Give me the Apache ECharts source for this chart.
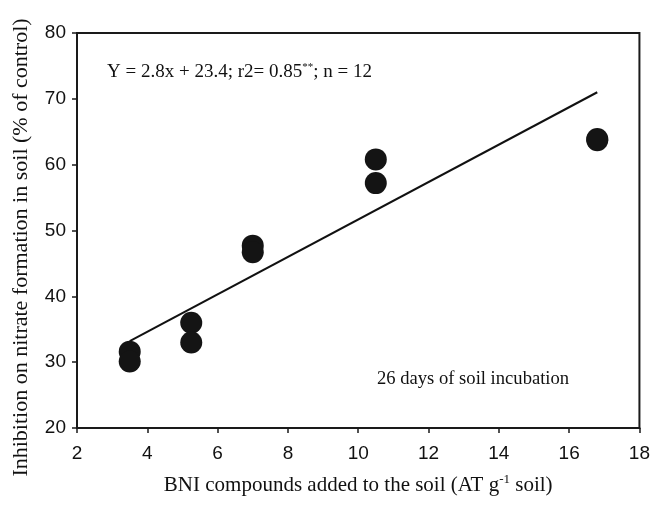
<!DOCTYPE html>
<html>
<head>
<meta charset="utf-8">
<script src="https://cdn.jsdelivr.net/npm/echarts@6/dist/echarts.min.js"></script>
<style>
  html, body { margin: 0; padding: 0; background: #fff; }
  #chart { width: 653px; height: 505px; }
</style>
</head>
<body>
<div id="chart"></div>
<script>
// Data
var bniDose = [3.5, 3.5, 5.25, 5.25, 7, 7, 10.5, 10.5, 16.8, 16.8];
var inhibition = [31.6, 30.1, 36.0, 33.0, 47.7, 46.7, 60.8, 57.2, 63.9, 63.7];
// fitted line ends (Y = 2.8x + 23.4)
var fitX = [3.5, 16.8];
var fitY = [33.2, 71.0];
var xTicks = [2, 4, 6, 8, 10, 12, 14, 16, 18];
var yTicks = [20, 30, 40, 50, 60, 70, 80];

var serif = '"Liberation Serif", "Times New Roman", serif';
var sans = '"Liberation Sans", Arial, sans-serif';

var chart = echarts.init(document.getElementById('chart'));

var points = bniDose.map(function (x, i) { return [x, inhibition[i]]; });
var fitLine = fitX.map(function (x, i) { return [x, fitY[i]]; });

var option = {
    backgroundColor: '#fff',
    animation: false,
    grid: {
        left: 77,
        right: 13,
        top: 33,
        bottom: 77,
        show: true,
        borderColor: '#1a1a1a',
        borderWidth: 2
    },
    xAxis: {
        type: 'value',
        min: xTicks[0],
        max: xTicks[xTicks.length - 1],
        interval: 2,
        name: 'BNI compounds added to the soil (AT g{sup|-1} soil)',
        nameLocation: 'middle',
        nameGap: 45,
        nameTextStyle: {
            fontFamily: serif,
            fontSize: 21,
            color: '#111',
            rich: {
                sup: { fontFamily: serif, fontSize: 13, color: '#111', padding: [0, 0, 11, 0] }
            }
        },
        axisLine: { lineStyle: { color: '#1a1a1a', width: 2 } },
        axisTick: { show: true, inside: false, length: 5, lineStyle: { color: '#1a1a1a', width: 1.5 } },
        axisLabel: { fontFamily: sans, fontSize: 19, color: '#111', margin: 16 },
        splitLine: { show: false }
    },
    yAxis: {
        type: 'value',
        min: yTicks[0],
        max: yTicks[yTicks.length - 1],
        interval: 10,
        name: 'Inhibition on nitrate formation in soil (% of control)',
        nameLocation: 'middle',
        nameGap: 45,
        nameTextStyle: { fontFamily: serif, fontSize: 22, color: '#111', padding: [0, 34, 0, 0] },
        axisLine: { lineStyle: { color: '#1a1a1a', width: 2 } },
        axisTick: { show: true, inside: false, length: 5, lineStyle: { color: '#1a1a1a', width: 1.5 } },
        axisLabel: { fontFamily: sans, fontSize: 19, color: '#111', margin: 11 },
        splitLine: { show: false }
    },
    graphic: [
        {
            type: 'text',
            left: 107,
            top: 62,
            style: {
                text: 'Y = 2.8x + 23.4; r2= 0.85{sup|**}; n = 12',
                font: '19px ' + serif,
                fill: '#111',
                rich: {
                    sup: { fontFamily: serif, fontSize: 11, fill: '#111', padding: [0, 0, 9, 0] }
                }
            }
        },
        {
            type: 'text',
            left: 377,
            top: 370,
            style: {
                text: '26 days of soil incubation',
                font: '18.6px ' + serif,
                fill: '#111'
            }
        }
    ],
    series: [
        {
            name: 'fit',
            type: 'line',
            data: fitLine,
            showSymbol: false,
            symbol: 'none',
            lineStyle: { color: '#111', width: 2 },
            z: 2
        },
        {
            name: 'observed',
            type: 'scatter',
            data: points,
            symbol: 'circle',
            symbolSize: 22,
            itemStyle: { color: '#141414', opacity: 1 },
            z: 3
        }
    ]
};

chart.setOption(option);

window.addEventListener('resize', function () {
    chart.resize();
});
</script>
</body>
</html>
